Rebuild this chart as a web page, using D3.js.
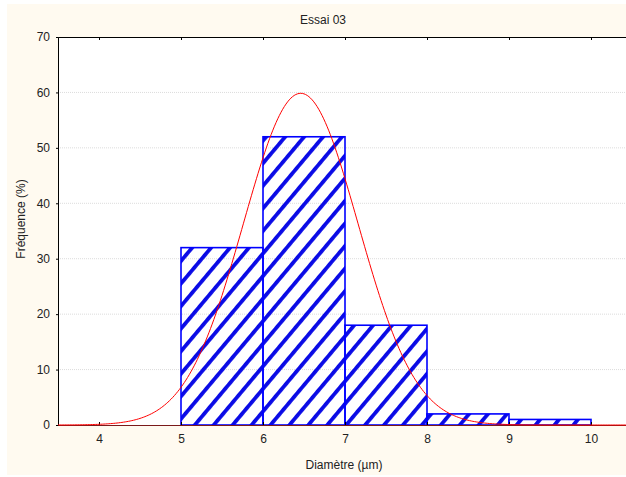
<!DOCTYPE html>
<html>
<head>
<meta charset="utf-8">
<script src="https://cdn.jsdelivr.net/npm/d3@7"></script>
<style>
  html, body { margin: 0; padding: 0; background: #fff; }
  svg { display: block; font-family: "Liberation Sans", Arial, sans-serif; }
</style>
</head>
<body>
<svg id="chart"></svg>
<script>
// histogram bins (µm) and frequencies (%)
const binStarts = [5, 6, 7, 8, 9];
const frequencies = [32, 52, 18, 2, 1];
const xTicks = [4, 5, 6, 7, 8, 9, 10];
const yTicks = [0, 10, 20, 30, 40, 50, 60, 70];

// fitted normal curve parameters
const fitMean = 6.46;
const fitSd = 0.70;
const fitTotal = 105;

const svgWidth = 626;
const svgHeight = 477;
const margin = { top: 37, right: -6, bottom: 52, left: 58 };

const svg = d3.select('#chart')
    .attr('width', svgWidth)
    .attr('height', svgHeight);

// cream background
svg.append('rect')
    .attr('x', 7).attr('y', 4)
    .attr('width', svgWidth - 7).attr('height', 471)
    .attr('fill', '#fffaf0');

const x = d3.scaleLinear()
    .domain([3.5, 10.5])
    .range([margin.left, svgWidth - margin.right]);

const y = d3.scaleLinear()
    .domain([0, 70])
    .range([svgHeight - margin.bottom, margin.top]);

// plot area
svg.append('rect')
    .attr('x', x(3.5)).attr('y', y(70))
    .attr('width', x(10.5) - x(3.5)).attr('height', y(0) - y(70))
    .attr('fill', '#fff');

// hatch pattern
const defs = svg.append('defs');
const pat = defs.append('pattern')
    .attr('id', 'hatch')
    .attr('patternUnits', 'userSpaceOnUse')
    .attr('width', 14.5).attr('height', 16)
    .attr('patternTransform', 'rotate(40)');
pat.append('rect')
    .attr('x', 0).attr('y', 0)
    .attr('width', 3.8).attr('height', 16)
    .attr('fill', '#0a0ae6');

// gridlines
svg.append('g')
    .selectAll('line')
    .data(yTicks.filter(d => d > 0 && d < 70))
    .join('line')
    .attr('x1', x(3.5)).attr('x2', x(10.5))
    .attr('y1', d => y(d)).attr('y2', d => y(d))
    .attr('stroke', '#dcdcdc')
    .attr('stroke-dasharray', '1,1');

// bars
svg.append('g')
    .selectAll('rect')
    .data(binStarts)
    .join('rect')
    .attr('x', d => x(d))
    .attr('y', (d, i) => y(frequencies[i]))
    .attr('width', d => x(d + 1) - x(d))
    .attr('height', (d, i) => y(0) - y(frequencies[i]))
    .attr('fill', 'url(#hatch)')
    .attr('stroke', '#0000ff')
    .attr('stroke-width', 1.6);

// axes
const xAxisBottom = d3.axisBottom(x).tickValues(xTicks).tickSize(-3).tickPadding(9).tickFormat(d3.format('d'));
const xAxisTop = d3.axisTop(x).tickValues(xTicks).tickSize(-3).tickFormat('');
const yAxis = d3.axisLeft(y).tickValues(yTicks).tickSize(2).tickPadding(6).tickFormat(d3.format('d'));

const gx = svg.append('g')
    .attr('transform', `translate(0,${y(0)})`)
    .call(xAxisBottom);
const gt = svg.append('g')
    .attr('transform', `translate(0,${y(70)})`)
    .call(xAxisTop);
const gy = svg.append('g')
    .attr('transform', `translate(${x(3.5)},0)`)
    .call(yAxis);

[gx, gt, gy].forEach(g => {
    g.select('.domain').attr('stroke', '#000');
    g.selectAll('.tick line').attr('stroke', '#000');
    g.selectAll('.tick text')
        .attr('font-size', 12)
        .attr('fill', '#222')
        .attr('font-family', '"Liberation Sans", Arial, sans-serif');
});
gx.select('.domain').attr('stroke', '#7a1a1a');

// normal fit curve
const curveXs = d3.range(3.5, 10.51, 0.02);
const line = d3.line()
    .x(d => x(d))
    .y(d => y(fitTotal / (fitSd * Math.sqrt(2 * Math.PI)) *
        Math.exp(-((d - fitMean) ** 2) / (2 * fitSd * fitSd))));

svg.append('path')
    .datum(curveXs)
    .attr('fill', 'none')
    .attr('stroke', '#ff0000')
    .attr('stroke-width', 1)
    .attr('d', line);

// titles
svg.append('text')
    .attr('x', 323).attr('y', 24)
    .attr('text-anchor', 'middle')
    .attr('font-size', 12)
    .attr('fill', '#222')
    .text('Essai 03');

svg.append('text')
    .attr('x', 344).attr('y', 469)
    .attr('text-anchor', 'middle')
    .attr('font-size', 12)
    .attr('fill', '#222')
    .text('Diamètre (µm)');

svg.append('text')
    .attr('transform', 'translate(25,219) rotate(-90)')
    .attr('text-anchor', 'middle')
    .attr('font-size', 12)
    .attr('fill', '#222')
    .text('Fréquence (%)');
</script>
</body>
</html>
